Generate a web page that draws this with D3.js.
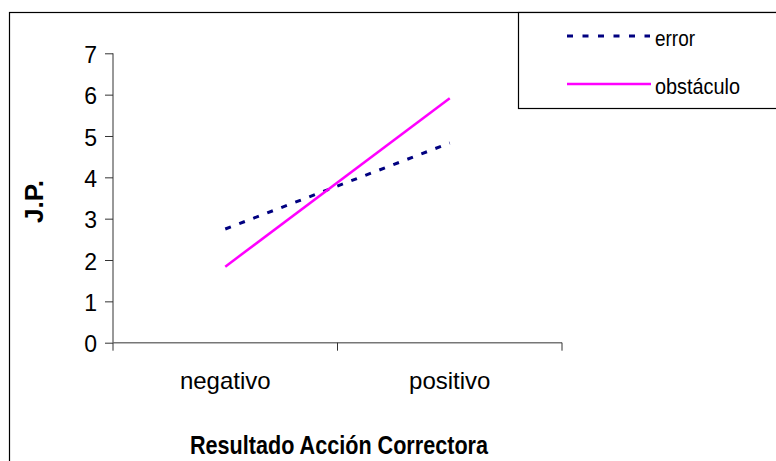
<!DOCTYPE html>
<html>
<head>
<meta charset="utf-8">
<script src="https://cdn.jsdelivr.net/npm/d3@7"></script>
<style>
  body { margin: 0; background: #fff; }
  svg text { font-family: "Liberation Sans", Arial, sans-serif; }
</style>
</head>
<body>
<div id="chart"></div>
<script>
let categories = ["negativo", "positivo"];
let errorValues = [2.75, 4.83];
let obstaculoValues = [1.84, 5.91];
let yTicks = [0, 1, 2, 3, 4, 5, 6, 7];
let seriesNames = ["error", "obstáculo"];

let W = 776, H = 461;
let margin = { top: 53.3, left: 113, right: 214, bottom: 118.3 };
let width = W - margin.left - margin.right,
    height = H - margin.top - margin.bottom;

let svg = d3.select("#chart")
    .append("svg")
    .attr("width", W)
    .attr("height", H);

// outer frame
svg.append("rect")
    .attr("x", 9.5).attr("y", 12.5)
    .attr("width", 800).attr("height", 500)
    .style("fill", "none").style("stroke", "#000").style("stroke-width", 1.2);

let g = svg.append("g")
    .attr("transform", "translate(" + margin.left + "," + margin.top + ")");

let x = d3.scaleBand().domain(categories).range([0, width]);
let y = d3.scaleLinear().domain([0, 7]).range([height, 0]);

// y axis
let yAxis = g.append("g")
    .call(d3.axisLeft(y).tickValues(yTicks).tickFormat(d3.format("d")).tickSize(8).tickPadding(8));
yAxis.select(".domain").attr("stroke", "#333").attr("d", "M0," + y(7) + "V" + y(0));
yAxis.selectAll(".tick line").attr("stroke", "#333");
yAxis.selectAll("text").attr("font-size", "23px").attr("fill", "#000").attr("dy", "0.4em")
    .attr("font-family", "Liberation Sans, Arial, sans-serif");

// x axis
let xAxis = g.append("g")
    .attr("transform", "translate(0," + height + ")")
    .call(d3.axisBottom(x).tickSize(0).tickPadding(29));
xAxis.select(".domain").attr("stroke", "#777").attr("stroke-width", 1.6)
    .attr("d", "M0,0H" + width);
xAxis.selectAll("text").attr("font-size", "24px").attr("fill", "#000")
    .attr("font-family", "Liberation Sans, Arial, sans-serif");
// category separator ticks
g.append("g").selectAll("line")
    .data([0].concat(categories.map(function (c) { return x(c) + x.bandwidth(); })))
    .enter().append("line")
    .attr("x1", function (d) { return d; }).attr("x2", function (d) { return d; })
    .attr("y1", height).attr("y2", height + 8)
    .attr("stroke", "#333");

let line = d3.line()
    .x(function (d, i) { return x(categories[i]) + x.bandwidth() / 2; })
    .y(function (d) { return y(d); });

g.append("path")
    .datum(errorValues)
    .attr("d", line)
    .attr("fill", "none")
    .attr("stroke", "#000080")
    .attr("stroke-width", 3)
    .attr("stroke-dasharray", "6,9");

g.append("path")
    .datum(obstaculoValues)
    .attr("d", line)
    .attr("fill", "none")
    .attr("stroke", "#FF00FF")
    .attr("stroke-width", 2.5);

// axis titles
svg.append("text")
    .attr("x", 339).attr("y", 454)
    .attr("text-anchor", "middle")
    .attr("font-size", "26px").attr("font-weight", "bold")
    .attr("textLength", 298).attr("lengthAdjust", "spacingAndGlyphs")
    .text("Resultado Acción Correctora");

svg.append("text")
    .attr("transform", "translate(43,201.5) rotate(-90)")
    .attr("text-anchor", "middle")
    .attr("font-size", "26px").attr("font-weight", "bold")
    .text("J.P.");

// legend
let legend = svg.append("g");
legend.append("rect")
    .attr("x", 518.5).attr("y", 12.5)
    .attr("width", 300).attr("height", 96)
    .style("fill", "#fff").style("stroke", "#000").style("stroke-width", 1.2);

let legendY = [36, 84];
let legendLen = [40, 85];
legend.append("line")
    .attr("x1", 567).attr("x2", 650).attr("y1", legendY[0]).attr("y2", legendY[0])
    .attr("stroke", "#000080").attr("stroke-width", 3).attr("stroke-dasharray", "6,9.5");
legend.append("line")
    .attr("x1", 567).attr("x2", 651).attr("y1", legendY[1]).attr("y2", legendY[1])
    .attr("stroke", "#FF00FF").attr("stroke-width", 2.5);
legend.selectAll("text.lg")
    .data(seriesNames)
    .enter().append("text")
    .attr("class", "lg")
    .attr("x", 655)
    .attr("y", function (d, i) { return legendY[i] + 10; })
    .attr("font-size", "22px")
    .attr("textLength", function (d, i) { return legendLen[i]; })
    .attr("lengthAdjust", "spacingAndGlyphs")
    .text(function (d) { return d; });
</script>
</body>
</html>
